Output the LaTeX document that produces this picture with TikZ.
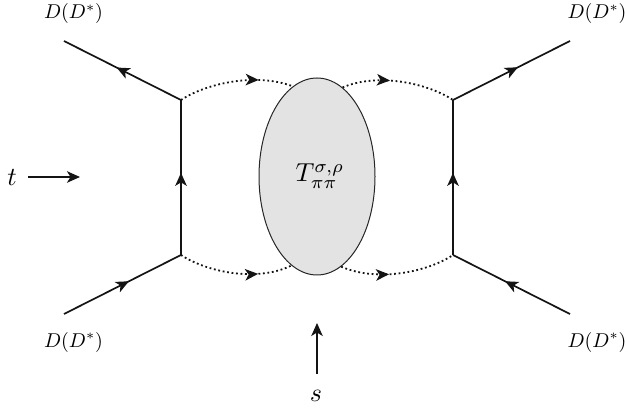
\documentclass[tikz,border=0pt]{standalone}
\usetikzlibrary{arrows.meta,shapes.geometric,decorations.markings}
\tikzset{
  tip/.tip={Stealth[length=13pt,width=11.5pt,inset=3.5pt]},
  fermion/.style={line width=1.7pt,color=black!92,postaction={decorate},
    decoration={markings,mark=at position #1 with {\arrow{tip}}}},
  meson/.style={line width=1.8pt,color=black!92,dash pattern=on 1.8pt off 2.7pt,postaction={decorate},
    decoration={markings,mark=at position #1 with {\arrow{tip}}}},
  momentum/.style={line width=1.7pt,color=black!92,-{tip}},
  lab/.style={inner sep=0pt,scale=2,transform shape},
  biglab/.style={inner sep=0pt,scale=2.6,transform shape},
  blobstyle/.style={ellipse,draw=black!85,line width=1pt,fill=black!11,minimum width=116pt,minimum height=197pt,inner sep=0pt}
}
\begin{document}
\begin{tikzpicture}[x=1pt,y=-1pt]
\useasboundingbox (0,0) rectangle (626,411);
\coordinate (vTL) at (181,100);
\coordinate (vBL) at (181,255);
\coordinate (vTR) at (453,100);
\coordinate (vBR) at (453,255);
\coordinate (eTL) at (64,41);
\coordinate (eBL) at (64,314);
\coordinate (eTR) at (570,41);
\coordinate (eBR) at (570,314);
\coordinate (tA) at (28,177);
\coordinate (tB) at (80,177);
\coordinate (sA) at (317,374);
\coordinate (sB) at (317,323);
\node[blobstyle] (blob) at (317,176.5) {};
\node[biglab] (T) at (320,176) {$T^{\sigma,\rho}_{\pi\pi}$};
\draw[fermion=0.55] (vTL) -- (eTL);
\draw[fermion=0.555] (eBL) -- (vBL);
\draw[fermion=0.53] (vBL) -- (vTL);
\draw[fermion=0.555] (vTR) -- (eTR);
\draw[fermion=0.555] (eBR) -- (vBR);
\draw[fermion=0.53] (vBR) -- (vTR);
\draw[meson=0.70] (vTL) .. controls (205,84) and (255,72) .. (blob.105.5);
\draw[meson=0.42] (blob.74.5) .. controls (379,72) and (429,84) .. (vTR);
\draw[meson=0.70] (vBL) .. controls (205,271) and (255,283) .. (blob.254.5);
\draw[meson=0.42] (blob.285.5) .. controls (379,283) and (429,271) .. (vBR);
\draw[momentum] (tA) -- (tB);
\draw[momentum] (sA) -- (sB);
\node[lab] (lTL) at (73.5,14) {$D(D^*)$};
\node[lab] (lTR) at (597,14) {$D(D^*)$};
\node[lab] (lBL) at (73.5,342) {$D(D^*)$};
\node[lab] (lBR) at (597,342) {$D(D^*)$};
\node[biglab] (lt) at (12,178) {$t$};
\node[biglab] (ls) at (316,396) {$s$};
\end{tikzpicture}
\end{document}
